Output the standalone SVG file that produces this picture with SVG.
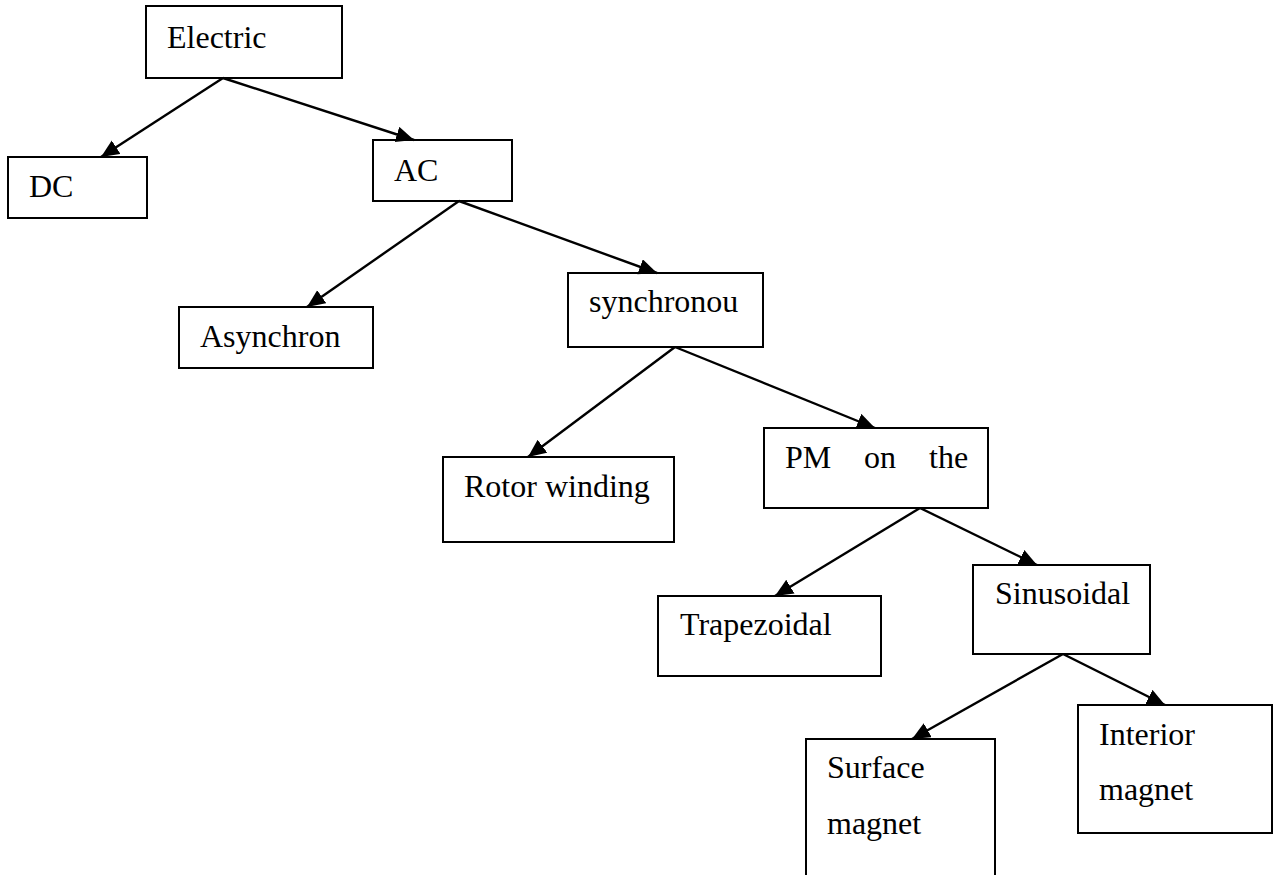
<svg xmlns="http://www.w3.org/2000/svg" width="1274" height="875" viewBox="0 0 1274 875">
<style>
.box{fill:#fff;stroke:#000;stroke-width:2}
.lbl{font-family:"Liberation Serif","Times New Roman",serif;font-size:32px;fill:#000}
.con{stroke:#000;stroke-width:2.4;fill:none;marker-end:url(#arr)}
</style>
<defs>
<marker id="arr" markerUnits="userSpaceOnUse" markerWidth="20" markerHeight="18" refX="18" refY="8" orient="auto">
<path d="M0,0 L18,8 L0,16 z" fill="#000"/>
</marker>
</defs>
<rect width="1274" height="875" fill="#fff"/>
<g id="n-electric"><rect class="box" x="146" y="6" width="196" height="72"/><text class="lbl" x="167" y="48">Electric</text></g>
<g id="n-dc"><rect class="box" x="8" y="157" width="139" height="61"/><text class="lbl" x="29" y="197">DC</text></g>
<g id="n-ac"><rect class="box" x="373" y="140" width="139" height="61"/><text class="lbl" x="394" y="181">AC</text></g>
<g id="n-asynchron"><rect class="box" x="179" y="307" width="194" height="61"/><text class="lbl" x="200" y="347">Asynchron</text></g>
<g id="n-synchronou"><rect class="box" x="568" y="273" width="195" height="74"/><text class="lbl" x="589" y="312">synchronou</text></g>
<g id="n-rotor"><rect class="box" x="443" y="457" width="231" height="85"/><text class="lbl" x="464" y="497">Rotor winding</text></g>
<g id="n-pm"><rect class="box" x="764" y="428" width="224" height="80"/><text class="lbl" y="468"><tspan x="785">PM</tspan><tspan x="864">on</tspan><tspan x="929">the</tspan></text></g>
<g id="n-trapezoidal"><rect class="box" x="658" y="596" width="223" height="80"/><text class="lbl" x="680" y="635">Trapezoidal</text></g>
<g id="n-sinusoidal"><rect class="box" x="973" y="565" width="177" height="89"/><text class="lbl" x="995" y="604">Sinusoidal</text></g>
<g id="n-surface"><rect class="box" x="806" y="739" width="189" height="150"/><text class="lbl" x="827" y="778">Surface</text><text class="lbl" x="827" y="834">magnet</text></g>
<g id="n-interior"><rect class="box" x="1078" y="705" width="194" height="128"/><text class="lbl" x="1099" y="745">Interior</text><text class="lbl" x="1099" y="800">magnet</text></g>
<g id="connectors">
<line class="con" x1="223" y1="78" x2="101" y2="157"/>
<line class="con" x1="223" y1="78" x2="414" y2="140"/>
<line class="con" x1="459" y1="201" x2="307" y2="307"/>
<line class="con" x1="459" y1="201" x2="657" y2="273"/>
<line class="con" x1="675" y1="347" x2="528" y2="457"/>
<line class="con" x1="675" y1="347" x2="875" y2="428"/>
<line class="con" x1="920" y1="508" x2="775" y2="596"/>
<line class="con" x1="920" y1="508" x2="1037" y2="565"/>
<line class="con" x1="1063" y1="654" x2="912" y2="739"/>
<line class="con" x1="1063" y1="654" x2="1165" y2="705"/>
</g>
</svg>
